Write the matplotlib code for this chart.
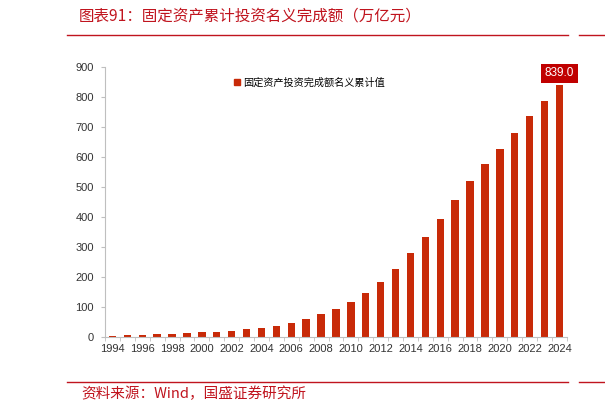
import matplotlib.pyplot as plt
from matplotlib.lines import Line2D
from matplotlib.patches import Patch

plt.rcParams['font.family'] = ['Liberation Sans', 'Noto Sans CJK SC', 'DejaVu Sans']

years = list(range(1994, 2025))
values = [4, 5.5, 7, 9, 10, 13, 16, 18, 21, 26, 31, 38, 48, 61, 76, 94,
          118, 148, 184, 228, 279, 332, 392, 456, 520, 576, 626, 681, 738, 788, 839]
tick_years = list(range(1994, 2025, 2))
series_name = '固定资产投资完成额名义累计值'
title = '图表91：固定资产累计投资名义完成额（万亿元）'
source = '资料来源：Wind，国盛证券研究所'

bar_color = '#C82A08'
text_red = '#C0141E'
axis_gray = '#BFBFBF'
cjk = ['Noto Sans CJK SC', 'DejaVu Sans']

fig = plt.figure(figsize=(6.05, 4.13), dpi=100)
ax = fig.add_axes([0.1736, 0.184, 0.7634, 0.654])

x = list(range(len(years)))
ax.bar(x, values, width=0.5, color=bar_color)

ax.set_xlim(-0.5, len(years) - 0.5)
ax.set_ylim(0, 900)
ax.set_yticks(range(0, 901, 100))
ax.set_xticks([years.index(y) for y in tick_years])
ax.set_xticklabels([str(y) for y in tick_years])
ax.set_xticks([i + 0.5 for i in range(-1, len(years))], minor=True)
ax.tick_params(axis='x', which='major', length=0, labelsize=8, colors='#333333', pad=5)
ax.tick_params(axis='x', which='minor', length=3, color=axis_gray)
ax.tick_params(axis='y', length=3, color=axis_gray, labelsize=8, labelcolor='#333333', pad=5)

for s in ['top', 'right']:
    ax.spines[s].set_visible(False)
for s in ['left', 'bottom']:
    ax.spines[s].set_color(axis_gray)
    ax.spines[s].set_linewidth(0.8)

ax.annotate(f'{values[-1]:.1f}', xy=(x[-1], values[-1]), xytext=(0, 8.5),
            textcoords='offset points', ha='center', va='center',
            color='white', fontsize=8.5,
            bbox=dict(boxstyle='square,pad=0.3', fc='#C00000', ec='none'))

ax.legend(handles=[Patch(color=bar_color, label=series_name)],
          loc='upper left', bbox_to_anchor=(0.26, 0.995), frameon=False,
          prop={'family': cjk, 'size': 7.3},
          handlelength=0.6, handleheight=0.6, handletextpad=0.3)

fig.text(79 / 605, 1 - 16 / 413, title, fontsize=11.2, color=text_red,
         ha='left', va='center', style='italic', family=cjk)
fig.text(81 / 605, 1 - 394 / 413, source, fontsize=10.5, color=text_red,
         ha='left', va='center', style='italic', family=cjk)

for yy in [35, 382]:
    fig.add_artist(Line2D([67 / 605, 568 / 605], [1 - yy / 413] * 2, color=text_red, lw=1))
    fig.add_artist(Line2D([579 / 605, 1.0], [1 - yy / 413] * 2, color=text_red, lw=1))

fig.savefig('out.png', dpi=100)
